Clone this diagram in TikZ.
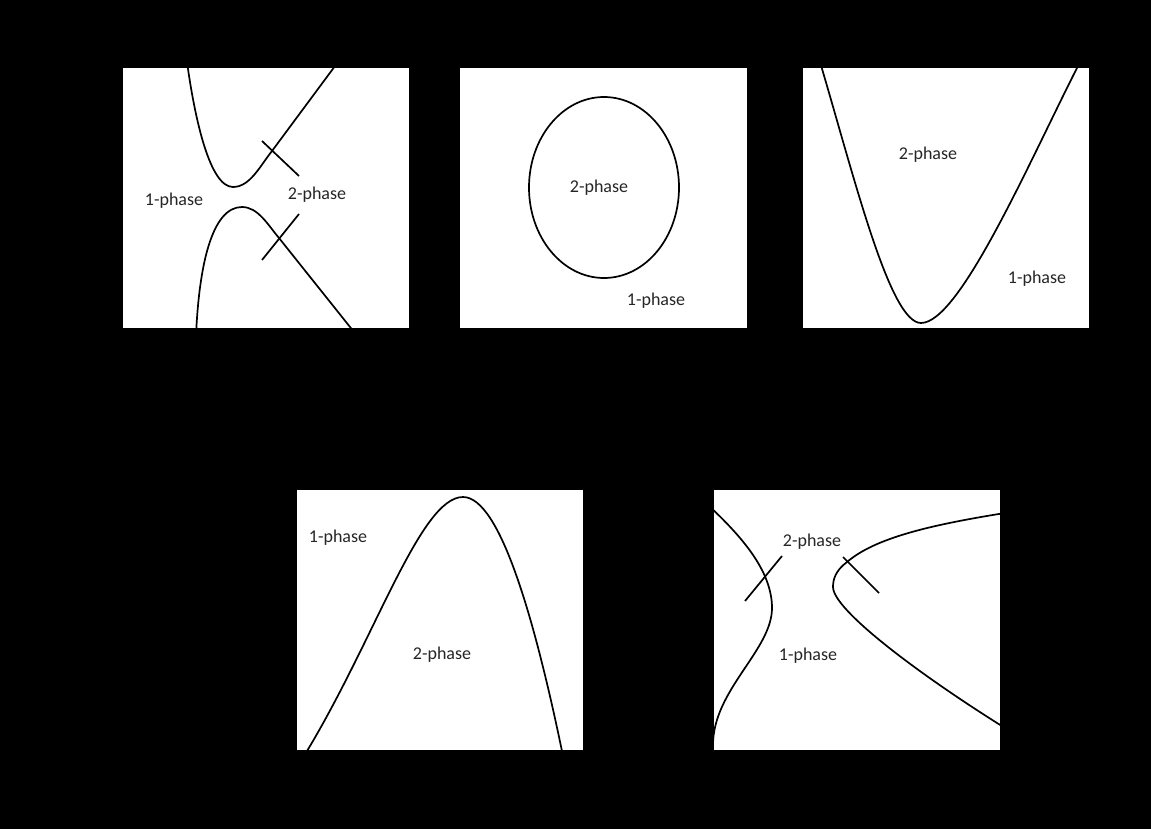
\documentclass[tikz,border=0pt]{standalone}
\usepackage{fontspec}
\setmainfont{Carlito}
\begin{document}
\begin{tikzpicture}[x=1pt,y=-1pt,
  panel/.style={fill=white,draw=none},
  curve/.style={line width=1.7pt,line join=round},
  tick/.style={line width=1.7pt},
  lbl/.style={font=\fontsize{18}{21}\selectfont,text=black!85,inner sep=0pt}]
\fill[black] (0,0) rectangle (1151,829);
\useasboundingbox (0,0) rectangle (1151,829);
% panel 1
\fill[panel] (123,68) rectangle (409,328);
\begin{scope}
\clip (123,68) rectangle (409,328);
\draw[curve] (187,62) .. controls (195,120) and (210,187) .. (233,187)
  .. controls (250,187) and (260,166) .. (272,151) -- (338,62);
\draw[curve] (196,336) .. controls (199,265) and (212,207) .. (242,207)
  .. controls (258,207) and (268,225) .. (279,238) -- (358,337);
\end{scope}
\draw[tick] (262,141) -- (299,176);
\draw[tick] (299,214) -- (262,260);
\node[lbl] (p1a) at (174,201) {1-phase};
\node[lbl] (p1b) at (317,195) {2-phase};
% panel 2
\fill[panel] (460,68) rectangle (747,328);
\draw[curve] (604,187.5) ellipse [x radius=75, y radius=90.5];
\node[lbl] (p2b) at (599,188) {2-phase};
\node[lbl] (p2a) at (656,301) {1-phase};
% panel 3
\fill[panel] (803,68) rectangle (1089,328);
\begin{scope}
\clip (803,68) rectangle (1089,328);
\draw[curve] (820,62) .. controls (855,180) and (890,323) .. (921,323)
  .. controls (960,323) and (1030,160) .. (1080,62);
\end{scope}
\node[lbl] (p3b) at (928,155) {2-phase};
\node[lbl] (p3a) at (1037,279) {1-phase};
% panel 4
\fill[panel] (297,490) rectangle (583,750);
\begin{scope}
\clip (297,490) rectangle (583,750);
\draw[curve] (304,756) .. controls (375,640) and (420,497) .. (463,497)
  .. controls (500,497) and (535,620) .. (563,756);
\end{scope}
\node[lbl] (p4a) at (338,538) {1-phase};
\node[lbl] (p4b) at (442,655) {2-phase};
% panel 5
\fill[panel] (714,490) rectangle (1000,750);
\begin{scope}
\clip (714,490) rectangle (1000,750);
\draw[curve] (708,505) .. controls (740,535) and (772,570) .. (772,608)
  .. controls (772,650) and (713,690) .. (713,745) -- (713,755);
\draw[curve] (1005,513) .. controls (930,525) and (875,538) .. (847,562)
  .. controls (835,571) and (833,580) .. (833,587)
  .. controls (833,610) and (920,675) .. (1005,728);
\end{scope}
\draw[tick] (782,556) -- (745,601);
\draw[tick] (843,557) -- (879,593);
\node[lbl] (p5b) at (812,542) {2-phase};
\node[lbl] (p5a) at (808,656) {1-phase};
\end{tikzpicture}
\end{document}
